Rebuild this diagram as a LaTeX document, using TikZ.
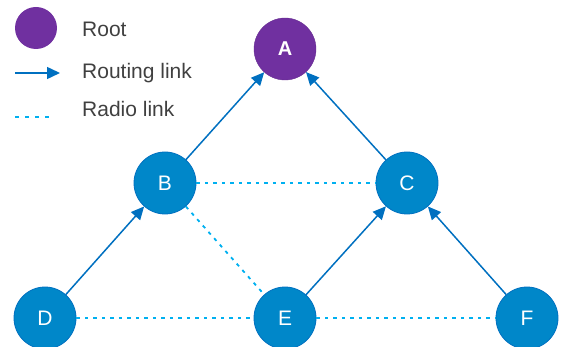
\documentclass[tikz,border=0pt]{standalone}
\usepackage{fontspec}
\setmainfont{Liberation Sans}
\usepackage{tikz}
\usetikzlibrary{positioning,arrows.meta}
\definecolor{RootPurple}{RGB}{112,48,160}
\definecolor{NodeBlue}{RGB}{0,135,201}
\definecolor{LinkBlue}{RGB}{0,112,192}
\definecolor{RadioBlue}{RGB}{0,176,240}

\begin{document}
\begin{tikzpicture}[x=1pt, y=-1pt,
        % Style nút
        rootnode/.style={circle, draw=RootPurple!90!black, fill=RootPurple, text=white, font=\fontsize{20}{24}\selectfont\bfseries, minimum size=62pt, inner sep=0pt},
        meshnode/.style={circle, draw=LinkBlue, line width=0.8pt, fill=NodeBlue, text=white, font=\fontsize{21}{24}\selectfont, minimum size=62pt, inner sep=0pt},
        % Style cạnh
        routing/.style={-{Triangle[length=13pt, width=12pt]}, draw=LinkBlue, line width=1.5pt},
        radio/.style={draw=RadioBlue, line width=1.8pt, dash pattern=on 3.5pt off 5pt},
        % Style chú thích
        legendtext/.style={anchor=west, text=black!75, font=\fontsize{21}{24}\selectfont, inner sep=0pt}
    ]
    \useasboundingbox (0,0) rectangle (561,347);

    % --- CHÚ THÍCH ---
    \node[circle, fill=RootPurple, minimum size=42pt, inner sep=0pt] (legroot) at (36,28) {};
    \node[legendtext] (lblroot) at (82,29) {Root};
    \coordinate (rs) at (15,73);
    \coordinate (re) at (60,73);
    \draw[routing] (rs) -- (re);
    \node[legendtext] (lblrouting) at (82,73) {Routing link};
    \coordinate (ds) at (15,117);
    \coordinate (de) at (53,117);
    \draw[radio, dash pattern=on 4pt off 6pt] (ds) -- (de);
    \node[legendtext] (lblradio) at (82,109) {Radio link};

    % --- NÚT ---
    % Root
    \node[rootnode] (A) at (285,49) {A};

    % Level 2
    \node[meshnode] (B) at (165,183) {B};
    \node[meshnode] (C) at (407,183) {C};

    % Level 3
    \node[meshnode] (D) at (45,318) {D};
    \node[meshnode] (E) at (285,318) {E};
    \node[meshnode] (F) at (527,318) {F};

    % --- CẠNH ---
    % Liên kết vô tuyến (chấm)
    \draw[radio] (B) -- (C);
    \draw[radio] (B) -- (E);
    \draw[radio] (D) -- (E);
    \draw[radio] (E) -- (F);

    % Liên kết định tuyến (mũi tên)
    \draw[routing] (D) -- (B);
    \draw[routing] (B) -- (A);
    \draw[routing] (E) -- (C);
    \draw[routing] (C) -- (A);
    \draw[routing] (F) -- (C);

\end{tikzpicture}
\end{document}
